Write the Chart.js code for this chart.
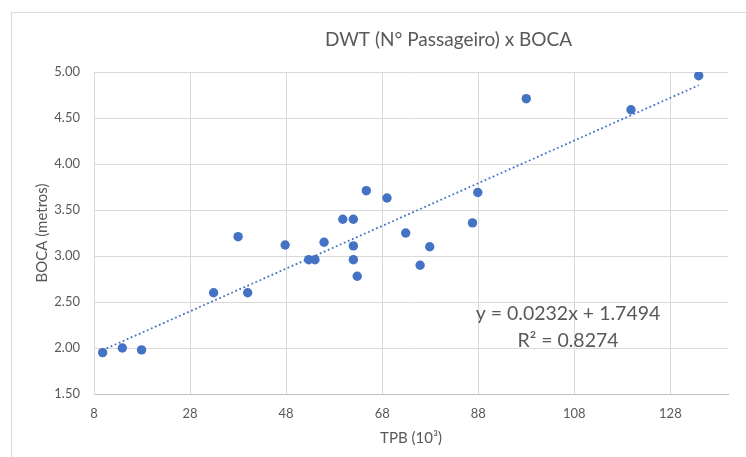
<!DOCTYPE html>
<html>
<head>
<meta charset="utf-8">
<script src="https://cdn.jsdelivr.net/npm/chart.js@4/dist/chart.umd.min.js"></script>
<style>
  html, body { margin: 0; padding: 0; background: #fff; overflow: hidden; width: 746px; height: 457px; }
  #frame { position: absolute; left: 11px; top: 12px; width: 900px; height: 500px; border: 1px solid #d9d9d9; }
  #wrap { position: absolute; left: 0; top: 0; width: 746px; height: 457px; }
</style>
</head>
<body>
<div id="frame"></div>
<div id="wrap"><canvas id="chart"></canvas></div>
<script>
  // TPB (10^3) vs BOCA (metros)
  const tpb = [9.8, 13.9, 17.9, 32.9, 38.0, 40.0, 47.8, 52.7, 54.0, 55.9, 59.8, 62.0, 62.0,
               62.0, 62.8, 64.7, 69.0, 72.9, 75.9, 77.9, 86.8, 87.9, 98.0, 119.8, 133.9];
  const boca = [1.95, 2.00, 1.98, 2.60, 3.21, 2.60, 3.12, 2.96, 2.96, 3.15, 3.40, 3.40, 3.11,
                2.96, 2.78, 3.71, 3.63, 3.25, 2.90, 3.10, 3.36, 3.69, 4.71, 4.59, 4.96];

  const xTicks = [8, 28, 48, 68, 88, 108, 128];
  const yTicks = [1.5, 2.0, 2.5, 3.0, 3.5, 4.0, 4.5, 5.0];

  // linear trendline as printed on the chart
  const slope = 0.0232;
  const intercept = 1.7494;
  const r2 = 0.8274;

  const titleText = 'DWT (N° Passageiro) x BOCA';
  const gray = '#595959';
  const blue = '#4472C4';
  const font = 'Lato, "Open Sans", sans-serif';

  const points = tpb.map((x, i) => ({ x, y: boca[i] }));
  const xMin = Math.min(...tpb), xMax = Math.max(...tpb);
  const trend = [xMin, xMax].map(x => ({ x, y: slope * x + intercept }));

  // the original chart is wider than the crop, so its title sits right of centre
  const titleAndEq = {
    id: 'titleAndEq',
    afterDraw(chart) {
      const { ctx, chartArea } = chart;
      ctx.save();
      ctx.fillStyle = gray;
      ctx.textAlign = 'center';
      ctx.textBaseline = 'middle';
      ctx.font = '19px ' + font;
      ctx.fillText(titleText, 448.5, 40);
      ctx.font = '19.5px ' + font;
      const cx = chartArea.left + 474;
      ctx.fillText(`y = ${slope.toFixed(4)}x + ${intercept.toFixed(4)}`, cx, chartArea.top + 242);
      ctx.fillText(`R² = ${r2.toFixed(4)}`, cx, chartArea.top + 269);
      ctx.restore();
    }
  };

  new Chart(document.getElementById('chart'), {
    type: 'scatter',
    data: {
      datasets: [
        {
          label: 'BOCA',
          data: points,
          backgroundColor: blue,
          borderWidth: 0,
          pointRadius: 4.7,
          order: 2
        },
        {
          type: 'line',
          label: 'Linear',
          data: trend,
          borderColor: blue,
          borderWidth: 1.8,
          borderDash: [1.8, 2.6],
          pointRadius: 0,
          fill: false,
          order: 1
        }
      ]
    },
    options: {
      responsive: true,
      maintainAspectRatio: false,
      animation: false,
      layout: { padding: { top: 72, left: 0, right: 18, bottom: 0 } },
      plugins: {
        legend: { display: false },
        tooltip: { enabled: false },
        title: { display: false }
      },
      scales: {
        x: {
          type: 'linear',
          min: 8,
          max: 140,
          afterBuildTicks: s => { s.ticks = xTicks.map(v => ({ value: v })); },
          afterFit: s => { s.height = 63; },
          ticks: { color: gray, font: { family: font, size: 13 }, padding: 12 },
          grid: { color: '#d9d9d9', drawTicks: false },
          border: { color: '#bfbfbf', width: 1 },
          title: {
            display: true,
            text: 'TPB (10³)',
            color: gray,
            font: { family: font, size: 15 },
            padding: { top: 0, bottom: 10 }
          }
        },
        y: {
          min: 1.5,
          max: 5,
          afterBuildTicks: s => { s.ticks = yTicks.map(v => ({ value: v })); },
          afterFit: s => { s.width = 94; },
          ticks: {
            color: gray,
            font: { family: font, size: 13 },
            padding: 14,
            callback: v => v.toFixed(2)
          },
          grid: { color: '#d9d9d9', drawTicks: false },
          border: { color: '#d9d9d9' },
          title: {
            display: true,
            text: 'BOCA (metros)',
            color: gray,
            font: { family: font, size: 15 },
            padding: { top: 33, bottom: 0 }
          }
        }
      }
    },
    plugins: [titleAndEq]
  });
</script>
</body>
</html>
